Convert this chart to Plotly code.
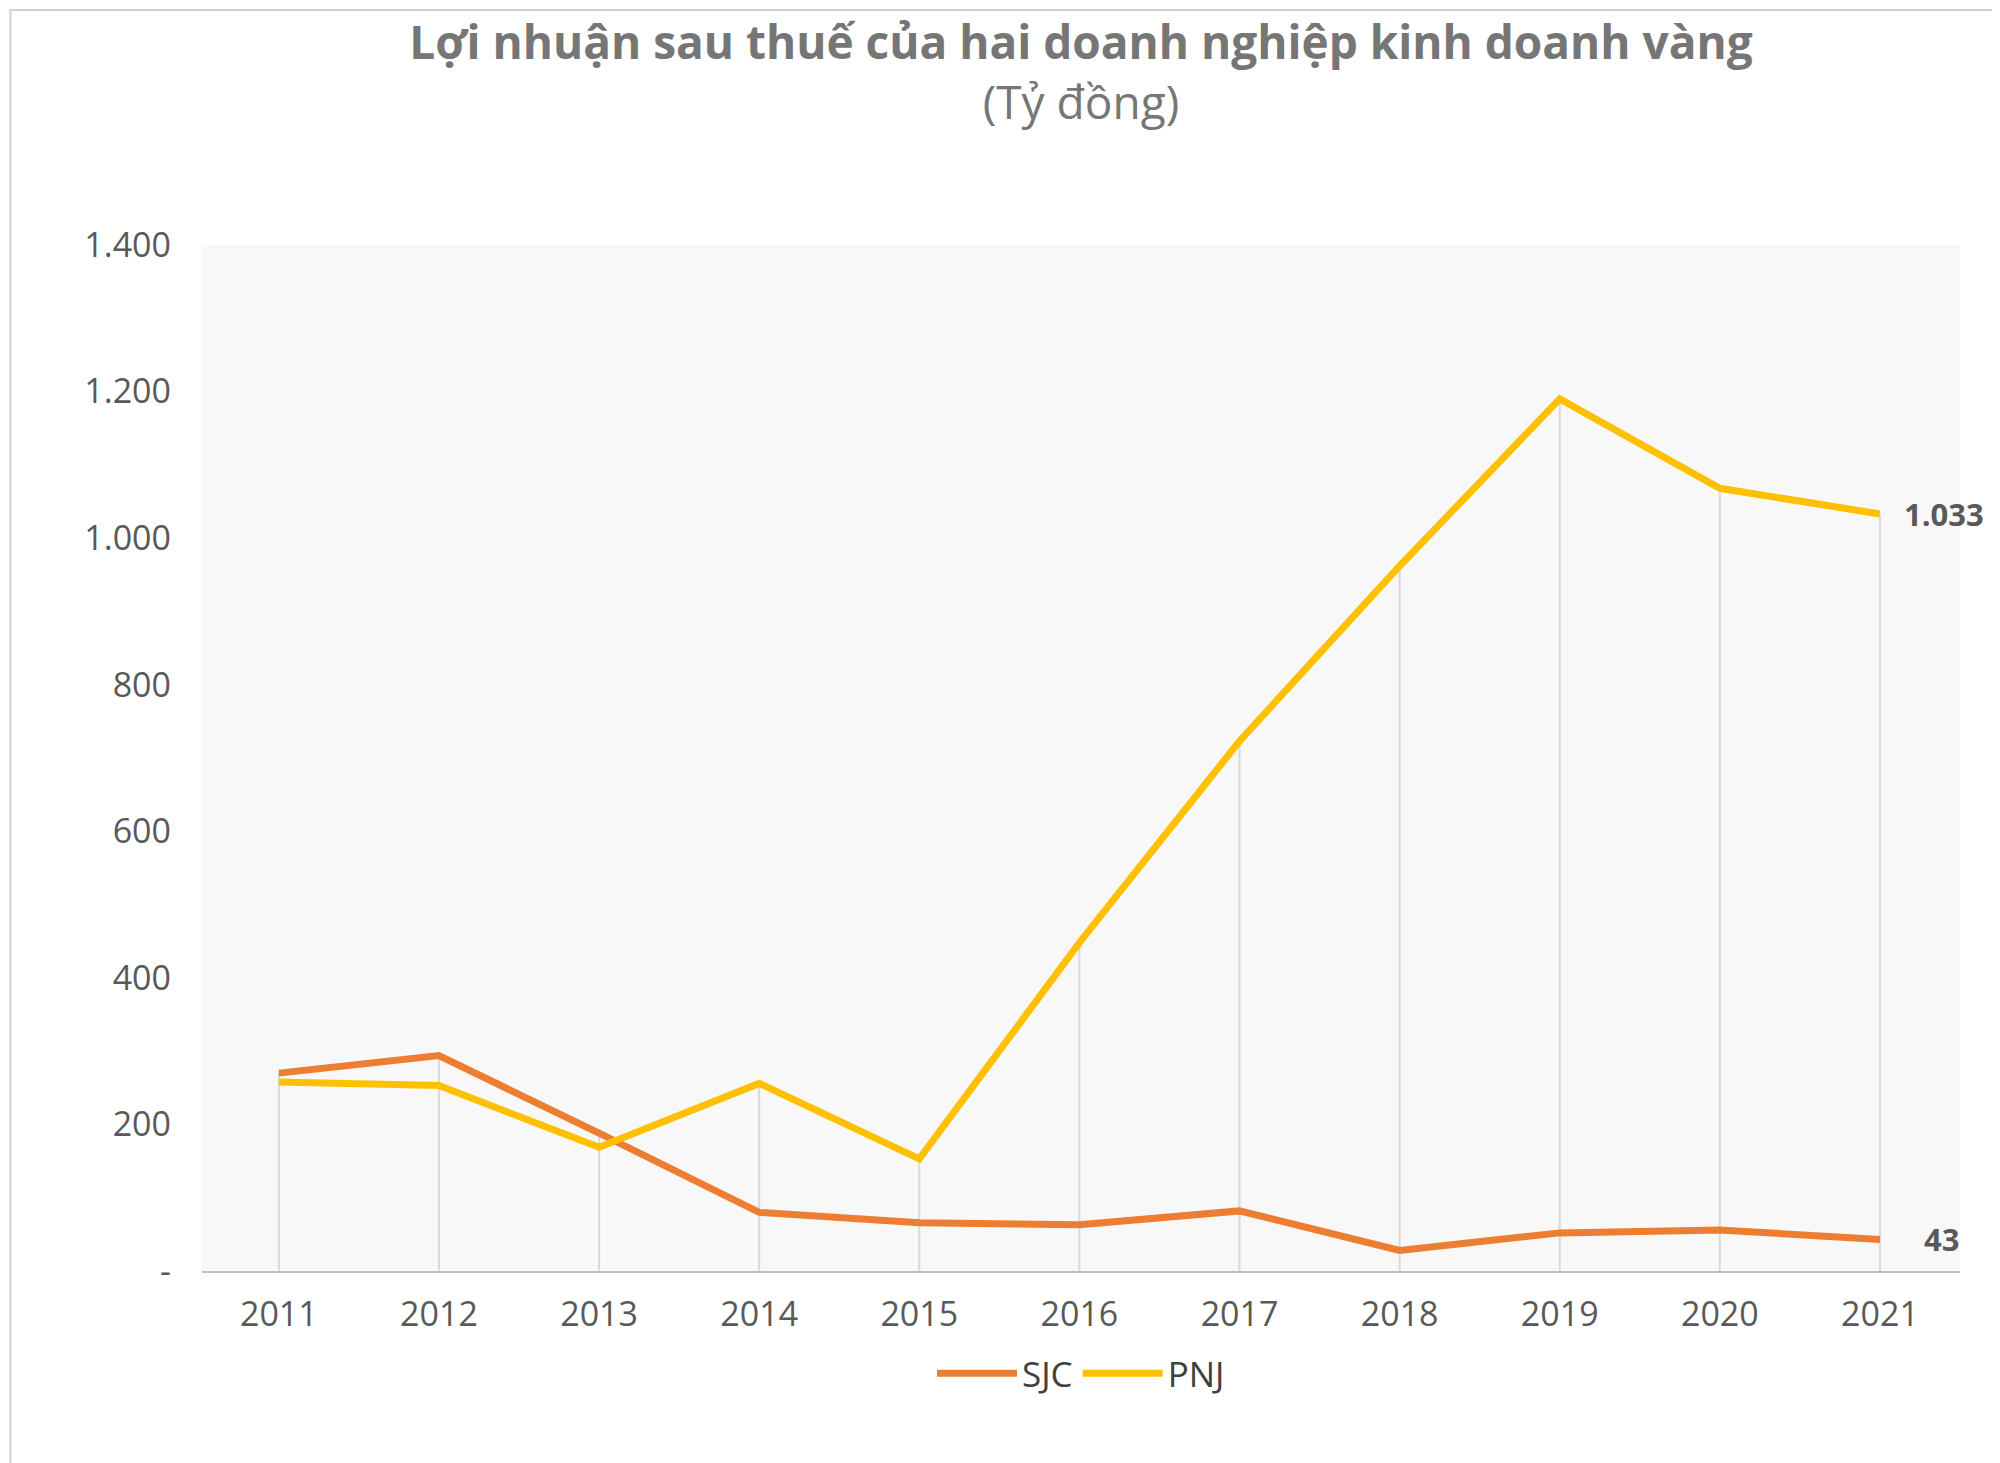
import plotly.graph_objects as go

years = [2011, 2012, 2013, 2014, 2015, 2016, 2017, 2018, 2019, 2020, 2021]
sjc = [270, 294, 188, 80, 66, 63, 82, 28, 52, 56, 43]
pnj = [258, 253, 169, 256, 153, 448, 723, 962, 1190, 1068, 1033]
y_ticks = [0, 200, 400, 600, 800, 1000, 1200, 1400]
y_labels = ["-", "200", "400", "600", "800", "1.000", "1.200", "1.400"]

grey = "#595959"

# drop lines from the axis up to the highest point of each year
drop_x, drop_y = [], []
for yr, a, b in zip(years, sjc, pnj):
    drop_x += [yr, yr, None]
    drop_y += [0, max(a, b), None]

fig = go.Figure()
fig.add_trace(go.Scatter(x=drop_x, y=drop_y, mode="lines", showlegend=False,
                         line=dict(color="#d9d9d9", width=2), hoverinfo="skip"))
fig.add_trace(go.Scatter(x=years, y=sjc, name="SJC", mode="lines",
                         line=dict(color="#ED7D31", width=7)))
fig.add_trace(go.Scatter(x=years, y=pnj, name="PNJ", mode="lines",
                         line=dict(color="#FFC000", width=7)))

fig.add_annotation(x=years[-1], y=pnj[-1], text="<b>1.033</b>", showarrow=False,
                   xanchor="left", xshift=22, font=dict(size=31, color=grey))
fig.add_annotation(x=years[-1], y=sjc[-1], text="<b>43</b>", showarrow=False,
                   xanchor="left", xshift=42, font=dict(size=31, color=grey))

fig.update_layout(
    width=2000, height=1463,
    paper_bgcolor="white", plot_bgcolor="#f8f8f8",
    margin=dict(l=194, r=48, t=237, b=200),
    font=dict(family="Open Sans, Liberation Sans, sans-serif", color=grey),
    title=dict(
        text="<b>Lợi nhuận sau thuế của hai doanh nghiệp kinh doanh vàng</b><br>"
             "<span style='font-weight:normal'>(Tỷ đồng)</span>",
        x=0.5, xanchor="center", xref="paper", yref="container", y=0.965, yanchor="top",
        font=dict(size=46, color="#767676")),
    xaxis=dict(range=[2010.52, 2021.5], tickvals=years, ticktext=[str(y) for y in years],
               showgrid=False, zeroline=False, showline=True, linecolor="#bfbfbf",
               linewidth=2, tickfont=dict(size=34, color=grey), ticks="",
               ticklabelstandoff=12),
    yaxis=dict(range=[0, 1400], tickvals=y_ticks, ticktext=y_labels, showgrid=False,
               zeroline=False, tickfont=dict(size=34, color=grey), ticklabelstandoff=30),
    legend=dict(orientation="h", x=0.5, xanchor="center", y=-0.1, yanchor="middle",
                font=dict(size=35, color="#404040"), itemwidth=80),
    shapes=[dict(type="rect", xref="paper", yref="paper", x0=-0.109, x1=1.026,
                 y0=-0.193, y1=1.229, line=dict(color="#d0d0d0", width=2), layer="below")],
)

fig.write_html("out.html")
